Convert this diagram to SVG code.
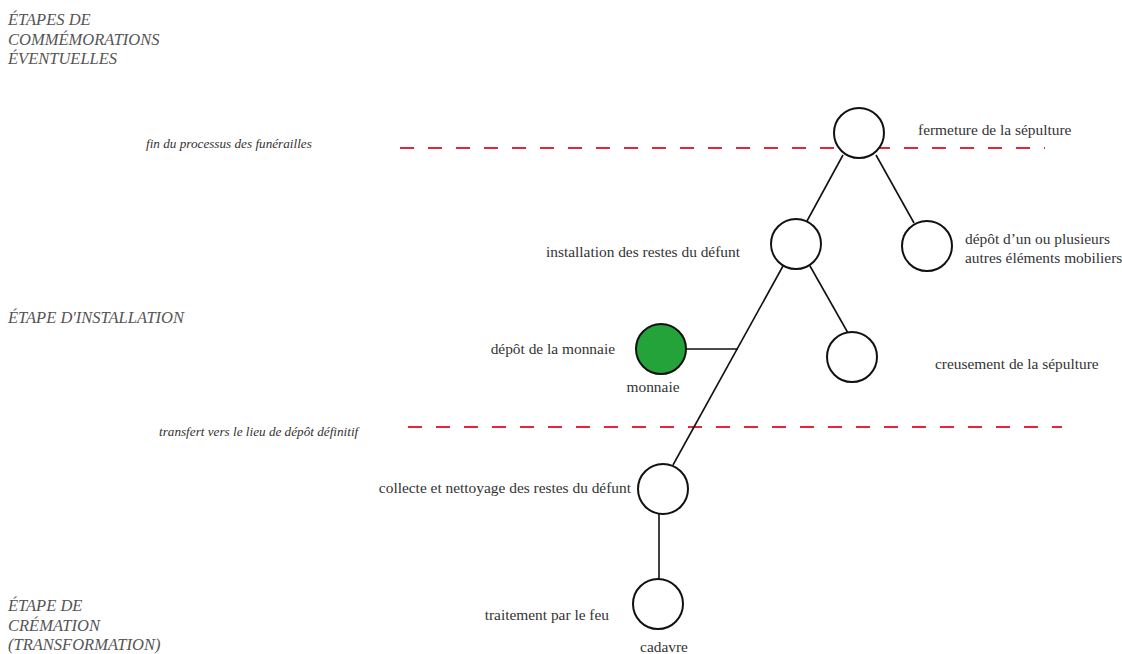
<svg xmlns="http://www.w3.org/2000/svg" width="1122" height="654" viewBox="0 0 1122 654">
<style>
.bg{fill:#ffffff}
.node{fill:#ffffff;stroke:#111;stroke-width:2}
.green{fill:#23a339;stroke:#111;stroke-width:2}
.edge{stroke:#111;stroke-width:1.6;fill:none}
.dash{stroke:#e8233c;stroke-width:2;stroke-dasharray:14 14;fill:none}
text{font-family:"Liberation Serif","Times New Roman",serif}
.lbl{font-size:15.4px;fill:#333}
.stage{font-size:16.5px;font-style:italic;fill:#555}
.note{font-size:13.2px;font-style:italic;fill:#333}
</style>
<rect class="bg" x="0" y="0" width="1122" height="654"/>
<g id="stages">
<text class="stage" x="8" y="25">ÉTAPES DE</text>
<text class="stage" x="8" y="45">COMMÉMORATIONS</text>
<text class="stage" x="8" y="64">ÉVENTUELLES</text>
<text class="stage" x="8" y="323">ÉTAPE D'INSTALLATION</text>
<text class="stage" x="8" y="611">ÉTAPE DE</text>
<text class="stage" x="8" y="631">CRÉMATION</text>
<text class="stage" x="8" y="650">(TRANSFORMATION)</text>
</g>
<g id="limits">
<line class="dash" x1="400" y1="148" x2="1045" y2="148"/>
<text class="note" x="146" y="148">fin du processus des funérailles</text>
<line class="dash" x1="408" y1="427" x2="1062" y2="427"/>
<text class="note" x="159" y="436">transfert vers le lieu de dépôt définitif</text>
</g>
<g id="connectors">
<line class="edge" x1="807" y1="221" x2="843" y2="155"/>
<line class="edge" x1="876" y1="155" x2="914" y2="223"/>
<line class="edge" x1="810" y1="266" x2="848" y2="333"/>
<line class="edge" x1="783" y1="266" x2="673" y2="465"/>
<line class="edge" x1="686" y1="349" x2="738" y2="349"/>
<line class="edge" x1="659" y1="514" x2="659" y2="579"/>
</g>
<g id="n-fermeture">
<circle class="node" cx="859" cy="133" r="25"/>
<text class="lbl" x="918" y="135">fermeture de la sépulture</text>
</g>
<g id="n-installation">
<circle class="node" cx="796" cy="244" r="25"/>
<text class="lbl" x="740" y="257" text-anchor="end">installation des restes du défunt</text>
</g>
<g id="n-depot-autres">
<circle class="node" cx="927" cy="246" r="25"/>
<text class="lbl" x="965" y="244">dépôt d’un ou plusieurs</text>
<text class="lbl" x="965" y="263">autres éléments mobiliers</text>
</g>
<g id="n-monnaie">
<circle class="green" cx="661" cy="349" r="25"/>
<text class="lbl" x="615" y="354" text-anchor="end">dépôt de la monnaie</text>
<text class="lbl" x="653" y="392" text-anchor="middle">monnaie</text>
</g>
<g id="n-creusement">
<circle class="node" cx="852" cy="357" r="25"/>
<text class="lbl" x="935" y="369">creusement de la sépulture</text>
</g>
<g id="n-collecte">
<circle class="node" cx="663" cy="489" r="25"/>
<text class="lbl" x="631" y="493" text-anchor="end">collecte et nettoyage des restes du défunt</text>
</g>
<g id="n-traitement">
<circle class="node" cx="658" cy="604" r="25"/>
<text class="lbl" x="609" y="620" text-anchor="end">traitement par le feu</text>
<text class="lbl" x="664" y="652" text-anchor="middle">cadavre</text>
</g>
</svg>
